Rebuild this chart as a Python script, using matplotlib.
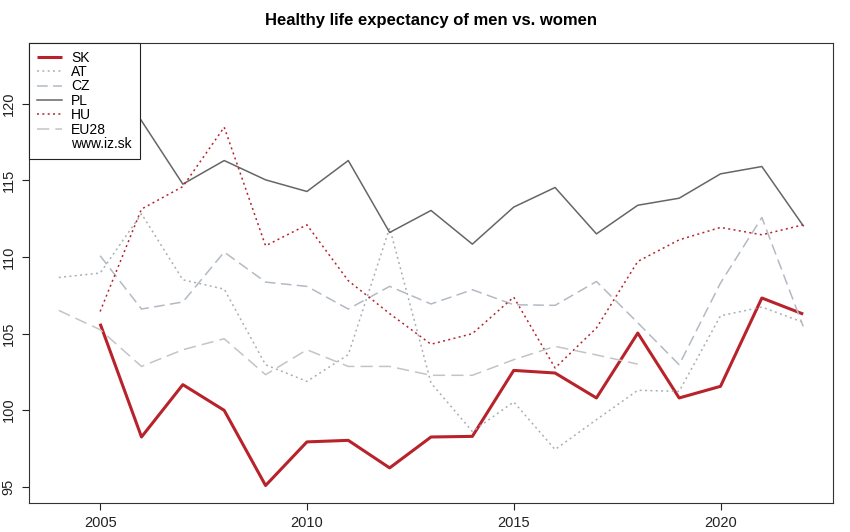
import matplotlib
matplotlib.use("Agg")
import matplotlib.pyplot as plt

plt.rcParams['font.family'] = ['Liberation Sans', 'DejaVu Sans']

years_all = list(range(2004, 2023))
years_sk = list(range(2005, 2023))

sk = [105.64, 98.24, 101.66, 99.98, 95.07, 97.92, 98.02, 96.22, 98.24,
      98.28, 102.59, 102.42, 100.79, 105.03, 100.79, 101.55, 107.32, 106.27]
at = [108.66, 108.95, 112.82, 108.51, 107.9, 102.96, 101.87, 103.62, 111.9, 101.77,
      98.6, 100.53, 97.42, 99.37, 101.29, 101.22, 106.16, 106.73, 105.73]
cz = [110.08, 106.6, 107.06, 110.32, 108.36, 108.08, 106.6, 108.08, 106.93,
      107.86, 106.88, 106.84, 108.4, 105.7, 102.96, 108.3, 112.58, 105.46]
pl = [120.5, 122.87, 118.9, 114.76, 116.3, 115.04, 114.28, 116.3, 111.6, 113.04,
      110.84, 113.26, 114.54, 111.51, 113.38, 113.84, 115.43, 115.91, 112.04]
hu = [106.44, 113.13, 114.6, 118.48, 110.73, 112.1, 108.45, 106.3, 104.3,
      104.99, 107.38, 102.75, 105.36, 109.71, 111.12, 111.93, 111.45, 112.1]
years_eu = list(range(2004, 2019))
eu28 = [106.51, 105.25, 102.85, 103.94, 104.66, 102.31, 103.94, 102.85, 102.85,
        102.27, 102.27, 103.29, 104.16, 103.6, 103.0]

red = '#b8232b'

fig = plt.figure(figsize=(8.5, 5.32), dpi=100)
ax = fig.add_axes([29 / 850, 1 - 502.5 / 532, (833 - 29) / 850, (502.5 - 43) / 532])

ax.plot(years_sk, sk, color=red, lw=2.2, label='SK', solid_capstyle='butt')
ax.plot(years_all, at, color='#a9afb8', lw=1.1, ls=(0, (1.3, 2.2)), label='AT')
ax.plot(years_sk, cz, color='#b3bac3', lw=1.1, ls=(0, (7, 3.5)), label='CZ')
ax.plot(years_all, pl, color='#666666', lw=1.1, label='PL')
ax.plot(years_sk, hu, color=red, lw=1.1, ls=(0, (1.3, 2.2)), label='HU')
ax.plot(years_eu, eu28, color='#c4c4c4', lw=1.1, ls=(0, (8, 4)), label='EU28')
ax.plot([], [], color='none', label='www.iz.sk')

ax.set_xlim(2003.28, 2022.72)
ax.set_ylim(93.96, 123.98)
ax.set_xticks([2005, 2010, 2015, 2020])
ax.set_yticks([95, 100, 105, 110, 115, 120])
ax.tick_params(direction='out', length=5, width=0.8, labelsize=10.5, colors='#222222')
plt.setp(ax.get_yticklabels(), rotation=90, va='center')
ax.tick_params(axis='x', pad=4.5)
ax.tick_params(axis='y', pad=4.5)
for s in ax.spines.values():
    s.set_linewidth(0.8)
    s.set_color('#333333')

ax.set_title('Healthy life expectancy of men vs. women', fontsize=12, fontweight='bold', pad=13)

leg = ax.legend(loc='upper left', borderaxespad=0, fontsize=10, frameon=True, fancybox=False,
                framealpha=1, edgecolor='#222222', handlelength=1.8, handletextpad=0.7,
                labelspacing=0.03, borderpad=0.55)
leg.get_frame().set_linewidth(0.8)

fig.savefig('out.png', dpi=100)
